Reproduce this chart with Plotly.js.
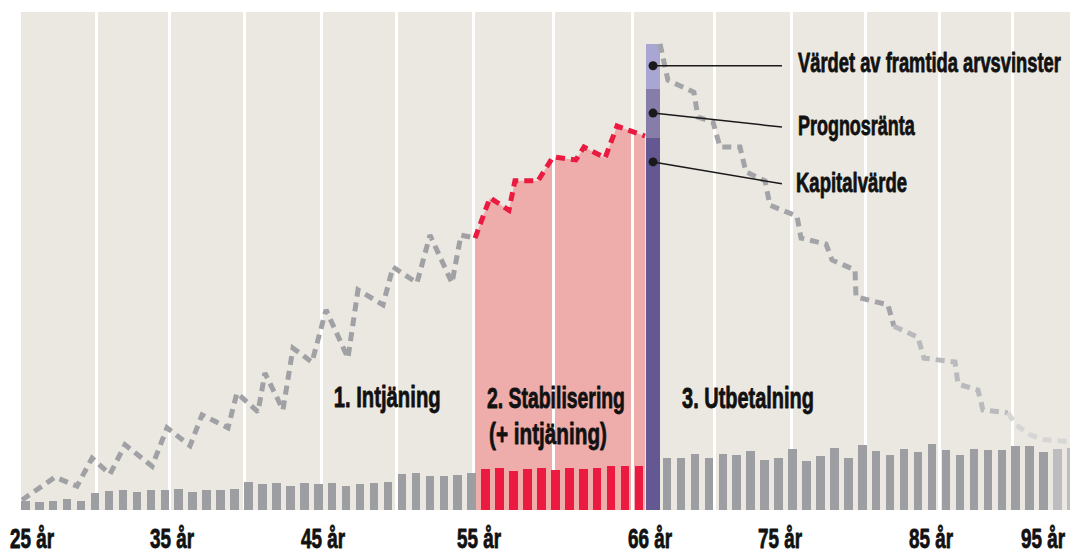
<!DOCTYPE html>
<html>
<head>
<meta charset="utf-8">
<script src="https://cdn.plot.ly/plotly-3.0.1.min.js"></script>
<style>
html,body{margin:0;padding:0;background:#fff;}
#chart{width:1070px;height:554px;}
</style>
</head>
<body>
<div id="chart"></div>
<script>
// ---------- DATA (bar index = one year step) ----------
const grayBarX1 = [0,1,2,3,4,5,6,7,8,9,10,11,12,13,14,15,16,17,18,19,20,21,22,23,24,25,26,27,28,29,30,31,32];
const grayBarY1 = [1.8,1.6,1.8,2.2,1.8,3.4,3.8,4.0,3.6,4.0,4.0,4.2,3.6,4.0,4.0,4.2,5.6,5.2,5.4,4.8,5.4,5.2,5.4,4.8,5.2,5.4,5.6,7.2,7.4,6.8,6.8,7.0,7.4];
const redBarX = [33,34,35,36,37,38,39,40,41,42,43,44];
const redBarY = [8.2,8.4,7.8,8.2,8.4,8.0,8.4,8.2,8.4,8.8,8.8,8.8];
const stackX = [45];
const kapitalvarde = [74.7];
const prognosranta = [9.8];
const arvsvinster = [9.0];
const grayBarX2 = [46,47,48,49,50,51,52,53,54,55,56,57,58,59,60,61,62,63,64,65,66,67,68,69,70,71,72,73];
const grayBarY2 = [10.4,10.4,11.2,10.4,11.2,11.0,11.8,10.0,10.4,12.2,9.8,10.8,12.4,10.4,13.1,11.8,11.0,12.2,11.6,13.3,12.0,11.0,12.2,12.0,12.0,12.9,12.9,11.6];
const lightBarX = [74,75];
const lightBarY = [12.2,12.4];

// dashed value line, in four parts
const lineAX = [-0.24,2.13,3.71,4.78,6.07,7.15,9.09,10.16,11.81,12.67,14.53,15.17,16.68,17.18,18.47,19.19,20.55,21.56,23.13,23.85,25.64,26.36,28.08,29.01,30.59,31.23,32.24];
const lineAY = [2.0,6.6,4.8,10.4,7.2,13.1,8.8,16.5,12.9,19.1,16.5,23.5,19.7,27.5,20.1,32.5,29.7,40.2,30.5,44.2,41.2,48.8,45.6,55.2,45.6,55.2,54.6];
const redLineX = [32.24,33.31,34.67,35.10,36.75,37.83,39.47,40.05,41.56,42.42,44.42];
const redLineY = [54.6,62.7,60.2,66.1,66.1,70.9,70.3,72.9,70.7,77.1,75.1];
const lineBX = [45.50,46.07,47.93,48.22,49.30,49.80,51.23,51.66,53.03,53.38,55.32,55.61,57.40,57.83,59.48,59.55,61.84,62.27];
const lineBY = [93.6,86.3,83.9,78.9,77.9,72.9,72.9,67.9,66.1,61.2,59.0,54.6,53.4,50.2,48.2,42.8,41.2,36.9];
const lineCX = [62.27,63.99,64.42,66.65,66.86,68.29,68.65,70.44];
const lineCY = [36.9,34.7,30.5,29.7,25.3,24.1,20.1,19.5];
const lineDX = [70.44,71.02,72.02,73.10,75.20];
const lineDY = [19.5,17.1,15.1,14.1,13.7];

// callouts on the stacked bar
const calloutLabels = ['Värdet av framtida arvsvinster','Prognosränta','Kapitalvärde'];
const calloutDotY = [89.2,79.7,69.9];
const calloutEndY = [89.2,76.9,65.5];

// axis labels
const tickPos = [0.48,10.52,21.34,32.52,44.78,54.10,64.92,72.95];
const tickText = ['25 år','35 år','45 år','55 år','66 år','75 år','85 år','95 år'];
const gridPos = [5.10,10.34,15.71,21.23,26.61,32.13,37.83,43.56,49.37,54.89,60.26,65.57,70.80];

const phaseLabels = ['1. Intjäning','2. Stabilisering','(+ intjäning)','3. Utbetalning'];

// ---------- STYLE ----------
const FONT = '"Liberation Sans",Arial,sans-serif';
const GRAY = '#9d9ea2', RED = '#ea1a40', PINK = '#eeadab';
const DASH = '9px,6px';
const SQ_TICK = 0.70;
const P = (px, py) => ({x: (px - 21) / 1049, y: (510 - py) / 498});

const traces = [
  {type:'bar', x:grayBarX1, y:grayBarY1, width:0.61, hoverinfo:'skip', marker:{color:GRAY, line:{width:0}}},
  {type:'bar', x:redBarX, y:redBarY, width:0.61, hoverinfo:'skip', marker:{color:RED, line:{width:0}}},
  {type:'bar', x:stackX, y:kapitalvarde, width:1.0, hoverinfo:'skip', marker:{color:'#645892', line:{width:0}}},
  {type:'bar', x:stackX, y:prognosranta, width:1.0, hoverinfo:'skip', marker:{color:'#877da9', line:{width:0}}},
  {type:'bar', x:stackX, y:arvsvinster, width:1.0, hoverinfo:'skip', marker:{color:'#aaa6d4', line:{width:0}}},
  {type:'bar', x:grayBarX2, y:grayBarY2, width:0.61, hoverinfo:'skip', marker:{color:GRAY, line:{width:0}}},
  {type:'bar', x:lightBarX, y:lightBarY, width:0.61, hoverinfo:'skip', marker:{color:'#bdbdbf', line:{width:0}}},
  {type:'scatter', mode:'lines', x:lineAX, y:lineAY, hoverinfo:'skip', line:{color:'#a0a1a5', width:5, dash:DASH}},
  {type:'scatter', mode:'lines', x:redLineX, y:redLineY, hoverinfo:'skip', line:{color:RED, width:5, dash:DASH}},
  {type:'scatter', mode:'lines', x:lineBX, y:lineBY, hoverinfo:'skip', line:{color:'#a3a4a8', width:5, dash:DASH}},
  {type:'scatter', mode:'lines', x:lineCX, y:lineCY, hoverinfo:'skip', line:{color:'#b9babd', width:5, dash:DASH}},
  {type:'scatter', mode:'lines', x:lineDX, y:lineDY, hoverinfo:'skip', line:{color:'#d6d6d6', width:5, dash:DASH}},
  {type:'scatter', mode:'markers', x:calloutDotY.map(() => stackX[0]), y:calloutDotY, hoverinfo:'skip', marker:{color:'#1a1a1a', size:9}, cliponaxis:false}
];

// pink area under the red line
let areaPath = 'M' + redLineX[0] + ',0';
for (let i = 0; i < redLineX.length; i++) areaPath += ' L' + redLineX[i] + ',' + redLineY[i];
areaPath += ' L' + redLineX[redLineX.length - 1] + ',0 Z';

const shapes = [
  {type:'path', path:areaPath, xref:'x', yref:'y', fillcolor:PINK, line:{width:0}, layer:'below'}
];
calloutDotY.forEach((y, i) => {
  shapes.push({type:'line', xref:'x', yref:'y', x0:stackX[0], y0:y, x1:54.24, y1:calloutEndY[i], line:{color:'#1a1a1a', width:1.5}, layer:'above'});
});

const txt = (text, pos, xanchor, size) => Object.assign({
  text:text, xref:'paper', yref:'paper', showarrow:false, xanchor:xanchor, yanchor:'middle',
  font:{family:FONT, size:size, color:'#111', weight:'bold'}
}, pos);

const annotations = [
  txt(phaseLabels[0], P(386.5, 396), 'center', 30),
  txt(phaseLabels[1], P(485, 397.5), 'left', 30),
  txt(phaseLabels[2], P(487, 433), 'left', 30),
  txt(phaseLabels[3], P(680, 397), 'left', 30),
  txt(calloutLabels[0], P(796, 62.5), 'left', 28),
  txt(calloutLabels[1], P(796, 125), 'left', 28),
  txt(calloutLabels[2], P(794, 182.5), 'left', 28)
];
// drawn widths (px) of each annotation in the reference
const annWidth = [107, 138, 118, 132, 263, 117, 111];

const layout = {
  width:1070, height:554,
  margin:{l:21, r:0, t:12, b:44, pad:0},
  paper_bgcolor:'#ffffff', plot_bgcolor:'#ebe8e1',
  showlegend:false, barmode:'stack', bargap:0,
  xaxis:{
    range:[-0.308, 74.89], tickmode:'array', tickvals:tickPos, ticktext:tickText,
    showgrid:false, zeroline:false, showline:false, ticks:'', ticklabeloverflow:'allow',
    ticklabelstandoff:10,
    tickfont:{family:FONT, size:27, color:'#111', weight:'bold'},
    minor:{tickmode:'array', tickvals:gridPos, showgrid:true, gridcolor:'#ffffff', gridwidth:3, ticks:''},
    fixedrange:true
  },
  yaxis:{range:[0,100], showgrid:false, zeroline:false, showline:false, showticklabels:false, ticks:'', fixedrange:true},
  shapes:shapes,
  annotations:annotations
};

// horizontally compress text to mimic the condensed newspaper typeface
function squeeze(el, s, anchor) {
  const bb = el.getBBox();
  const ox = anchor === 'left' ? bb.x : bb.x + bb.width / 2;
  const t = el.getAttribute('transform') || '';
  el.setAttribute('transform', t + ' translate(' + ox + ',0) scale(' + s + ',1) translate(' + (-ox) + ',0)');
  el.style.stroke = '#111';
  el.style.strokeWidth = '0.7px';
  el.style.vectorEffect = 'non-scaling-stroke';
  el.style.strokeLinejoin = 'round';
}

Plotly.newPlot('chart', traces, layout, {displayModeBar:false, staticPlot:true}).then(gd => {
  gd.querySelectorAll('.xtick text').forEach(el => squeeze(el, SQ_TICK, 'center'));
  gd.querySelectorAll('g.annotation').forEach(g => {
    const i = +g.getAttribute('data-index');
    const el = g.querySelector('text');
    if (el) {
      const w = el.getBBox().width || 1;
      squeeze(el, annWidth[i] / w, annotations[i].xanchor);
    }
  });
});
</script>
</body>
</html>
